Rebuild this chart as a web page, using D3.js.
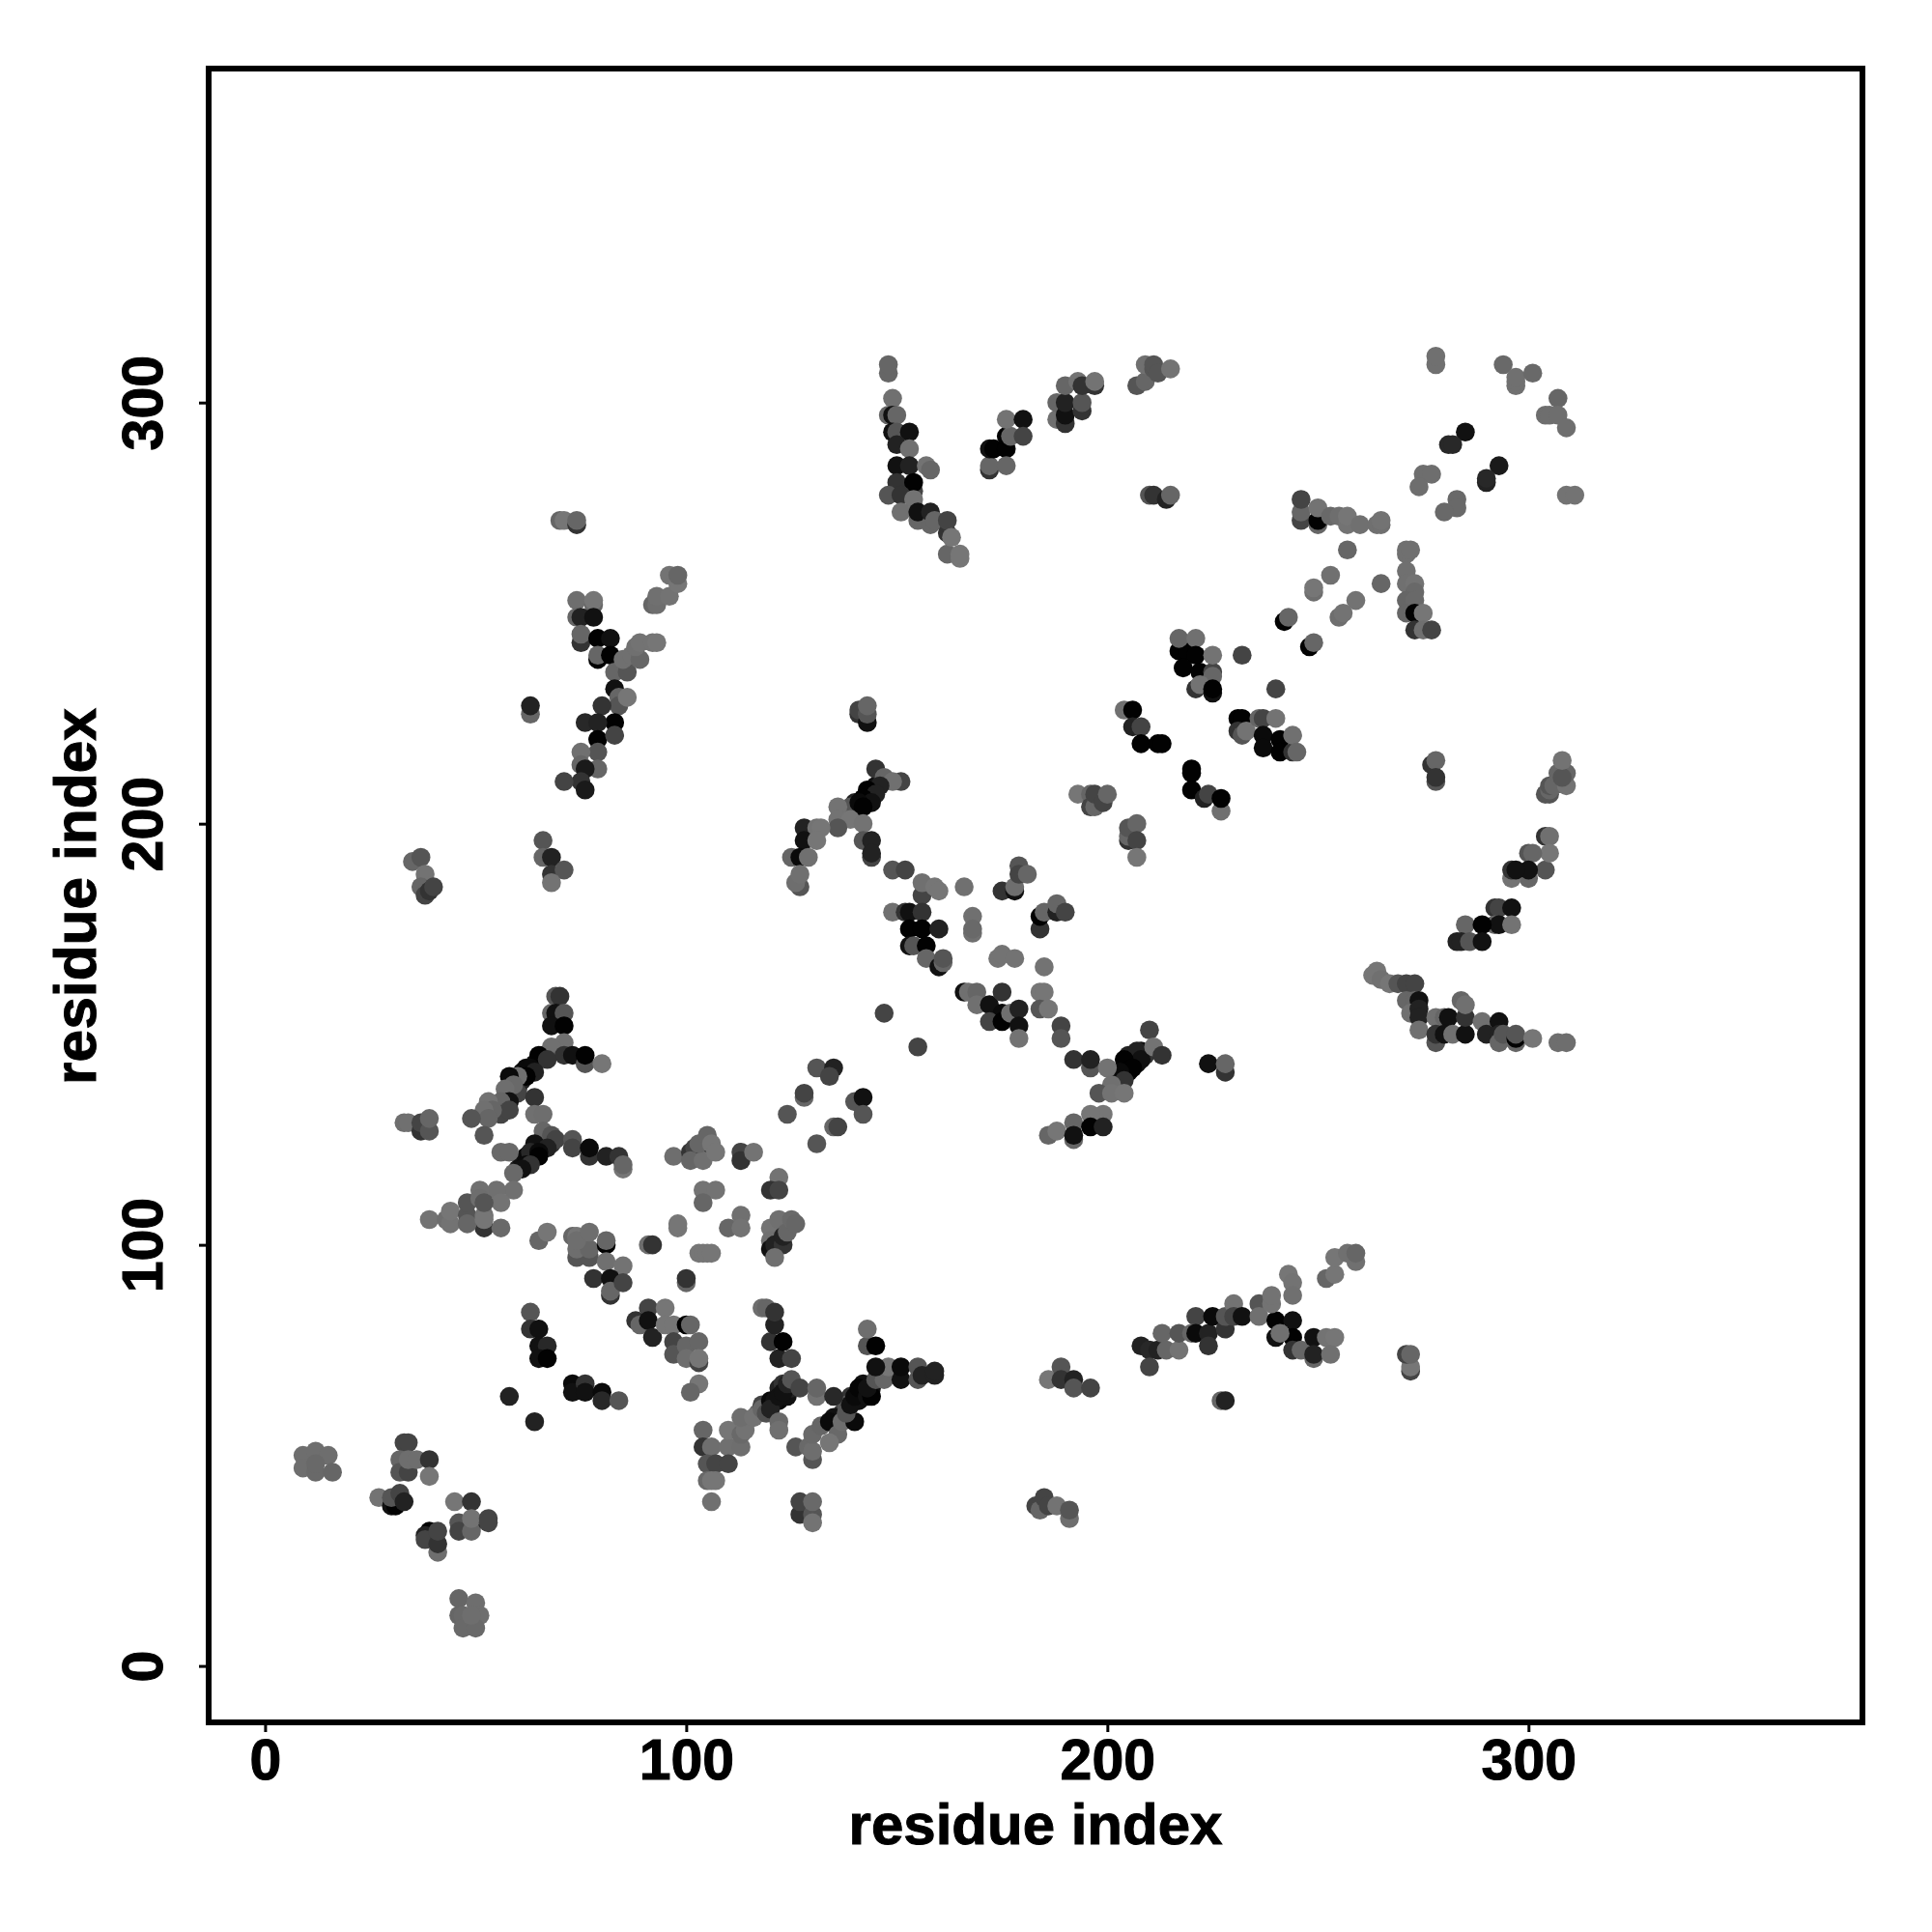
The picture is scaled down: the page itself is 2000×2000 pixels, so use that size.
<!DOCTYPE html>
<html><head><meta charset="utf-8">
<script src="https://cdn.jsdelivr.net/npm/d3@7"></script>
<style>html,body{margin:0;background:#fff}svg{display:block}</style></head>
<body><svg id="c" width="2000" height="2000"></svg>
<script>
const xTickValues=[0,100,200,300];
const yTickValues=[0,100,200,300];
const xTitle="residue index", yTitle="residue index";
// each contact: [residue i, residue j, grey level]
const denseRuns=[[61,141,17],[62,142,10],[64,143,17],[66,145,17],[60,137,51],[61,139,34],[60,136,68],[57,135,68],[55,133,102],
[60,118,34],[61,120,17],[62,121,10],[64,122,2],[66,124,10],[67,125,34],[68,124,51],
[140,205,34],[141,204,17],[143,206,10],[144,207,17],[145,209,17],[143,205,17],
[205,141,10],[206,144,2],[207,143,17],[208,146,17],[205,145,34],[209,145,51],
[117,60,102],[118,62,68],[122,63,10],[123,64,10],[124,64,17],[125,66,34],[122,66,34],[123,67,51],
[137,60,51],[139,64,51],[141,63,17],[142,65,10],[142,67,17],[144,66,17],[138,62,85],[136,57,51],[135,59,17]];
const lowerLeft=[[9,50,110],[12,51,110],[15,50,110],[9,47,110],[12,46,105],[16,46,102],[12,48,105],
[33,53,68],[34,53,68],[33,48,2],[32,49,102],[32,46,85],[34,46,68],[34,49,110],[36,49,110],[39,49,51],[39,45,118],
[27,40,115],[30,38,17],[31,38,2],[30,40,85],[32,41,68],[33,39,34],
[39,32,2],[38,31,34],[38,30,68],[41,27,110],[41,29,51],[41,32,68],
[45,39,118],[49,39,51],[49,33,2],[46,34,85],[46,32,68],[49,32,102],[49,35,115],[53,35,68],[53,34,68],
[46,16,102],[50,15,110],[46,12,102],[47,12,105],[51,12,110],[47,9,105],[50,9,105],[49,12,110]];
const lowerMiddle=[[63,84,85],[63,80,51],[65,80,17],[65,76,17],[67,76,40],[65,73,17],[67,73,2],
[58,64,34],[64,58,34],[73,67,10],[73,65,17],[76,67,51],[76,65,17],[80,65,10],[80,63,40],[84,63,85],
[52,104,51],[39,106,115],[43,106,110],[44,105,115],[44,108,118],[48,107,85],[48,105,102],[48,110,85],[52,107,115],[52,106,118],[56,104,105],
[65,101,102],[67,103,118],
[74,97,85],[77,97,85],[74,99,110],[77,99,102],[73,102,102],[74,102,118],[74,101,110],[77,103,110],[81,100,2],[81,101,102],[81,96,112],[85,95,115],
[78,92,51],[82,88,51],[82,92,17],[82,89,102],[85,91,68],
[91,100,110],[92,100,51],[98,104,118],[98,105,118],[103,98,118],[104,98,118],[100,91,102],[100,92,51],
[91,85,68],[88,82,51],[89,81,102],[91,82,17],[92,78,34],[95,85,118],[95,81,118],[97,81,118],[100,81,2],[101,81,102],
[97,77,68],[97,74,85],[100,76,102],[100,73,110],[103,77,102],[103,72,68],[103,73,118],[103,67,118],[101,65,102]];
const lowerBranch=[[104,56,102],[104,52,51],[106,52,110],[110,52,112],[110,56,118],[113,52,110],[113,55,105],[114,56,115],[113,59,110],[116,59,115],
[105,48,85],[107,48,68],[110,48,68],[105,44,105],[107,44,118],[106,44,118],[106,39,112],
[118,61,102],[119,60,80],[120,63,10],[121,63,17],[120,61,34],[122,64,17],[123,65,17],[124,67,34],[125,68,85],[127,66,68],[131,64,115],[131,66,102],[135,64,40],[122,58,105],[122,56,112],[126,52,85],
[118,85,110],[119,85,102],[120,77,51],[121,81,34],[121,84,51],[122,73,34],[123,77,2],[125,73,68],
[130,49,85],[129,52,105],[130,51,110],[130,55,105],[132,57,102],[134,58,10],[136,55,105],[134,53,118],[137,58,110],[140,58,10],[138,60,85],[139,62,17],[140,64,10],[141,66,5],[143,64,17],[144,64,2],[143,66,17],[145,68,85],[147,68,102],[148,71,118],[143,76,85],[143,80,110],[145,76,2],[145,71,17],[151,68,17],[151,71,10],[155,68,85],[155,71,85],[156,69,34],[159,69,34],[159,70,34],
[127,36,51],[127,39,68],[130,36,85],[130,34,115],[130,39,105],
[183,38,68],[184,37,102],[185,40,68],[186,38,68],[188,38,115],[191,35,110],[191,37,85],
[186,68,118],[189,71,85],[189,68,51],[192,68,34],[192,66,85],[196,66,68]];
const lowerRight=[[208,76,34],[210,75,40],[210,71,68],[212,75,34],[213,79,102],[214,75,102],[217,75,115],[217,79,85],
[221,83,68],[220,79,102],[221,79,10],[224,79,34],[224,76,51],[225,83,10],[228,80,51],[228,83,85],[230,86,115],[230,83,68],[232,83,17],[227,63,102],[228,63,34],
[236,86,85],[236,83,112],[240,82,2],[244,82,17],[240,78,17],[244,78,2],[241,79,112],[244,75,51],[246,75,102],[249,73,102],[249,78,17],[249,74,34],[252,78,115],[254,78,118],[253,74,112],
[239,86,115],[239,88,115],[243,93,118],[244,91,115],[244,88,112],[252,92,102],[254,93,118],[254,97,118],[257,98,112],[259,96,112],[259,98,102],
[272,70,68],[272,71,118],[271,74,68],[272,74,102]];
const middleLeft=[[69,159,85],[70,159,51],[68,155,102],[69,155,17],[71,155,85],[68,152,17],[71,152,2],[71,148,112],[68,147,112],[71,145,51],[73,145,17],[76,143,85],[76,145,2],[80,143,118],
[65,145,2],[67,144,51],[63,142,10],[64,141,34],[62,140,2],[60,140,112],[58,140,10],[59,138,105],[57,137,110],[58,134,17],[56,134,102],[56,131,68],[58,132,68],[53,134,115],[54,132,102],[52,132,112],[53,130,102],[49,130,85],[52,126,85],[64,135,51],[64,131,112],[66,131,110],
[33,129,110],[34,129,112],[37,127,51],[37,129,68],[39,127,85],[39,130,102],
[66,127,102],[68,126,85],[69,125,68],[64,124,17],[67,123,34],[63,122,40],[65,122,10],[65,121,2],[62,119,10],[63,119,51],[61,118,17],[59,117,105],[56,122,105],[58,122,105],[73,125,85],[73,123,68],[77,121,51],[77,123,10],[81,121,34],[84,121,51],[85,118,118],[85,119,102],
[59,113,112],[55,113,112],[51,113,112],[51,111,110],[56,110,115],[52,110,85],
[97,121,110],[101,122,51],[103,122,17],[102,123,68],[101,120,102],[104,120,112],[103,124,102],[105,126,102],[106,124,118],[107,122,118],
[113,122,68],[113,120,51],[116,122,115],[104,113,115],[107,113,115],[104,110,102],[122,116,115],[120,113,51],[122,113,68],
[110,104,102],[113,107,112],[113,104,115],[105,98,118],[106,98,118],
[120,104,115],[122,106,112],[120,101,112],[120,99,17],[121,100,34],[123,100,51],[123,102,34],[124,103,102],[125,106,105],[126,105,102],[121,97,112],
[131,142,85],[135,142,34],[134,140,68],[128,135,102],[128,136,68],[124,131,85],[140,134,85],[142,135,17],[142,131,85],[135,128,102],[136,128,68],[131,124,85]];
const centre=[[141,226,51],[141,227,68],[143,224,17],[143,226,85],[143,228,102],
[145,213,51],[147,211,102],[151,210,68],[149,210,112],[146,209,34],[143,208,2],[145,207,34],[142,206,2],[144,205,17],[139,204,85],[141,205,10],[142,204,2],[136,204,115],[136,201,115],[139,201,118],[142,200,115],[136,199,85],[128,199,34],[131,199,115],[132,199,118],[128,196,17],[131,196,118],[142,196,85],[144,196,34],[144,192,68],[144,193,34],
[125,192,102],[127,192,10],[129,192,112],[127,185,85],[126,186,110],[127,188,112],
[149,189,85],[152,189,68],[156,183,68],[156,186,112],[159,185,118],[160,184,118],[166,185,112],
[149,179,112],[152,179,51],[153,179,17],[156,179,51],[153,175,2],[156,175,2],[160,175,34],[153,171,17],[154,171,85],[157,171,2],[157,168,102],[160,166,17],[161,167,102],[161,168,85],
[168,178,112],[168,174,112],[168,175,105],[175,184,51],[178,184,17],[178,185,110],[179,190,85],[179,188,68],[181,188,102],
[184,175,51],[184,178,2],[185,179,102],[188,179,34],[188,181,102],[190,179,68],
[174,168,115],[175,169,115],[178,168,115],[185,166,115],[184,160,118],[185,160,118],[184,156,85],[186,156,118],[189,152,68],[189,149,85],
[166,160,17],[167,160,112],[169,160,102],[169,157,112],[172,157,17],[175,160,51],[175,155,10],[172,153,68],[175,153,2],[177,155,112],[179,156,34],[179,152,17],[179,149,115],
[147,155,68],[155,147,68],[192,144,51],[196,142,85],[196,144,34],
[210,151,68],[207,146,34],[208,144,17],[204,144,2],[206,142,2],[203,141,10],[204,139,51],[200,142,115],[201,138,112],[198,136,85],[201,136,115],[204,136,118],[211,147,115],[213,145,51],
[199,131,118],[196,131,118],[192,129,102],[186,126,102],[188,127,118],[192,125,102],[192,126,17],[196,128,2],[199,128,34],
[224,143,17],[228,141,51],[228,143,102]];
const upperRight=[[193,207,118],[196,207,102],[196,204,68],[197,204,102],[197,207,68],[199,205,68],[200,207,102],
[205,196,51],[205,197,102],[205,199,85],[207,200,102],[207,196,68],[207,192,118],
[204,227,112],[206,227,2],[206,223,34],[208,223,68],[208,219,2],[212,219,2],[213,219,2],
[220,213,2],[220,212,2],[220,208,2],[223,206,34],[224,207,68],[227,203,112],[227,206,2],
[217,241,2],[219,241,2],[217,244,102],[221,244,112],[221,240,2],[218,237,2],[222,236,2],[225,236,68],[225,235,102],[225,240,115],[221,232,51],[222,233,115],[225,231,17],[225,232,2],
[232,240,68],[240,232,68],
[231,225,2],[232,225,2],[231,222,51],[232,221,85],[233,222,115],[236,225,102],[237,225,68],[240,225,115],[237,221,10],[237,218,10],[241,220,2],[241,217,2],[244,217,51],[244,221,112],[245,217,102],
[278,309,112],[278,311,112],[294,309,105],[297,304,112],[297,305,112],[297,306,112],[301,307,105],[307,301,102],[304,297,110],[305,297,110],[307,297,110],[309,294,110],
[285,293,17],[281,290,40],[282,290,40],[293,285,26],[290,281,34],[290,282,40],
[275,283,110],[277,283,110],[274,280,110],[283,277,105],[283,275,105],[280,274,105],[309,278,115],[311,278,115],
[246,272,68],[246,274,102],[246,277,68],[250,271,102],[250,272,2],[250,275,115],[253,273,105],[255,273,110],[257,271,115],[257,273,118],[260,271,112],[264,271,112],[265,271,112],[265,272,115],
[257,265,102],[253,259,112],[249,255,110],[249,256,118],[265,257,102],[259,253,115],[255,249,110],[256,250,115],
[271,264,112],[271,265,112],[272,265,112],[271,260,112],[271,257,112],[273,257,115],[273,255,105],[271,253,102],[273,253,105],[271,250,102],[273,250,2],[275,250,118],[273,246,51],[275,246,112],[277,246,68],
[242,248,2],[243,249,102],[248,242,2],[249,243,102]];
const rightSide=[[277,214,51],[278,215,102],[278,210,85],[278,211,51],
[305,207,85],[304,207,85],[305,208,102],[305,209,85],[306,209,102],[307,212,102],[309,209,115],[309,212,102],[308,211,85],[308,215,115],
[304,197,51],[305,197,112],[304,189,85],[305,193,118],[300,193,85],[301,193,102],[300,187,102],[300,189,17],[296,187,115],[296,189,51],[297,189,17],
[292,180,51],[293,180,68],[296,180,17],[292,176,102],[293,176,17],[296,176,115],[285,176,102],[289,176,2],[283,172,34],[284,172,34],[286,172,85],[289,172,17],
[263,164,118],[264,165,118],[265,163,112],[267,162,118],[269,162,85],[271,162,68],[273,162,68],[271,158,102],[273,158,102],[274,158,17],[272,155,112],[274,156,34],[274,154,34],[274,151,112],
[278,154,112],[280,154,102],[281,154,17],[278,148,85],[278,150,51],[280,150,17],[282,150,112],[285,150,17],[285,154,51],[284,158,102],[285,157,112],[289,153,112],[293,153,17],[290,150,34],[293,150,34],[293,148,102],[294,150,85],[297,148,102],[297,149,2],[297,150,85],[301,149,118],[307,148,110],[309,148,110]];
const upperLeft=[[70,272,102],[71,272,118],[74,271,51],[74,272,102],
[74,253,110],[78,252,102],[78,253,118],[74,249,102],[75,249,34],[78,249,17],[75,243,51],[75,245,102],[79,244,2],[82,244,17],[79,239,2],[79,240,102],[82,240,2],[83,236,102],[86,236,85],[85,239,112],[87,240,112],[89,239,102],[88,242,112],[89,243,115],[92,243,115],[93,243,118],
[92,252,102],[93,252,110],[93,254,112],[96,254,115],[96,259,115],[98,257,118],[98,259,102],
[83,232,17],[84,230,102],[84,228,85],[80,228,51],[86,230,118],[83,224,2],[76,224,40],[79,224,34],[79,220,2],[83,221,68],[79,217,85],[75,217,112],[75,214,102],[79,213,102],[76,213,26],[75,210,51],[71,210,68],[76,208,26],
[63,226,102],[63,228,34],
[66,196,85],[66,192,102],[68,192,34],[68,188,51],[71,189,85],[68,186,115],
[35,191,102],[37,192,85],[38,188,115],[37,185,102],[38,183,68],[39,184,51],[40,185,68]];
const topMiddle=[[148,307,102],[148,309,102],[149,301,112],[148,297,102],[149,297,17],[150,297,102],[149,293,17],[150,293,85],[153,293,17],[150,290,34],[153,289,112],[150,285,17],[153,285,34],[157,285,115],[158,284,102],
[150,281,51],[154,279,68],[154,281,2],[148,278,85],[151,278,51],[154,277,115],[151,274,112],[155,272,102],[155,274,17],[158,271,102],[158,274,34],[159,272,102],[162,269,51],[162,272,68],[162,264,102],[163,268,118],[165,263,118],[165,264,118],
[172,284,51],[172,285,102],[172,289,17],[173,289,2],[176,289,2],[176,285,102],[176,292,2],[177,292,102],[176,296,115],[180,296,17],[180,292,68],
[188,296,112],[188,300,102],[190,295,51],[190,297,17],[190,300,34],[190,304,102],[193,305,115],[194,298,51],[194,300,85],[194,304,51],[197,304,51],[197,305,115],
[207,304,85],[209,305,102],[209,309,112],[211,308,85],[211,309,85],[212,307,85],[215,308,115],[210,278,85],[211,278,51],[214,277,34],[215,278,102]];

const contacts=[...denseRuns,...lowerLeft,...lowerMiddle,...lowerBranch,...lowerRight,...middleLeft,...centre,...upperRight,...rightSide,...upperLeft,...topMiddle];

const L=216,R=1928,T=71,B=1783;
const x=d3.scaleLinear().domain([-13.4,379.3]).range([L,R]);
const y=d3.scaleLinear().domain([-13.4,379.3]).range([B,T]);
const svg=d3.select("#c");
const font="'Liberation Sans',Arial,sans-serif";

svg.append("g").selectAll("circle").data(contacts).join("circle")
 .attr("cx",d=>x(d[0])).attr("cy",d=>y(d[1])).attr("r",9.8)
 .attr("fill",d=>d3.rgb(d[2],d[2],d[2]));

svg.append("rect").attr("x",L).attr("y",T).attr("width",R-L).attr("height",B-T)
 .attr("fill","none").attr("stroke","#000").attr("stroke-width",6);

function styleText(sel,size){
 sel.attr("font-family",font).attr("font-weight","bold").attr("font-size",size)
  .attr("fill","#000").attr("stroke","#000").attr("stroke-width",1);
}

const ax=svg.append("g").attr("transform",`translate(0,${B})`)
 .call(d3.axisBottom(x).tickValues(xTickValues).tickSize(10).tickPadding(7));
ax.select(".domain").remove();
ax.selectAll("line").attr("stroke-width",3);
styleText(ax.selectAll("text"),59);

const ay=svg.append("g").attr("transform",`translate(${L},0)`)
 .call(d3.axisLeft(y).tickValues(yTickValues).tickSize(10).tickPadding(0));
ay.select(".domain").remove();
ay.selectAll("line").attr("stroke-width",3);
styleText(ay.selectAll("text"),59);
ay.selectAll("text").attr("text-anchor","middle").attr("dy",0).attr("x",0)
 .attr("transform","translate(-48,0) rotate(-90)");

styleText(svg.append("text").attr("x",(L+R)/2).attr("y",1909).attr("text-anchor","middle").text(xTitle),60);
styleText(svg.append("text").attr("transform",`translate(99,${(T+B)/2+1}) rotate(-90)`).attr("text-anchor","middle").text(yTitle),60.5);
</script></body></html>
